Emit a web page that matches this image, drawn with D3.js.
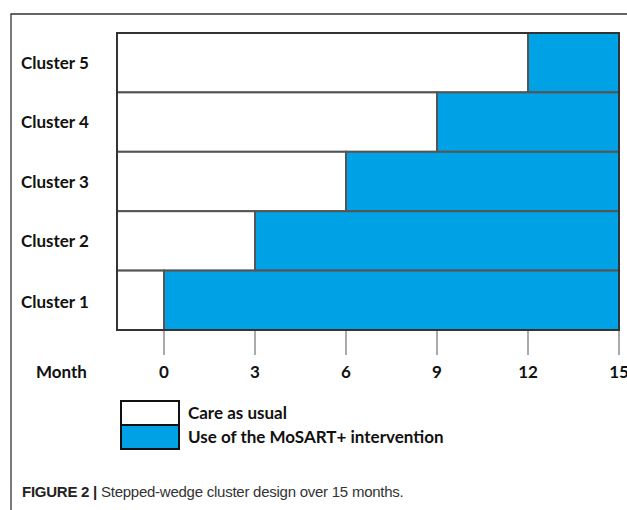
<!DOCTYPE html>
<html lang="en">
<head>
    <meta charset="UTF-8">
    <title>Stepped-wedge cluster design</title>
    <script src="https://d3js.org/d3.v7.min.js"></script>
    <style>
        body { margin: 0; background: #fff; }
        .lbl { font-family: Lato, "Open Sans", sans-serif; font-weight: bold; font-size: 17px; fill: #111; }
        .caption { font-family: "Liberation Sans", Arial, sans-serif; font-size: 15px; letter-spacing: -0.25px; fill: #333; }
    </style>
</head>
<body>
    <svg id="chart" width="627" height="510"></svg>

    <script>
        // data
        const clusters = ["Cluster 5", "Cluster 4", "Cluster 3", "Cluster 2", "Cluster 1"];
        const switchMonth = [12, 9, 6, 3, 0];
        const startMonth = -1.55;
        const endMonth = 15;
        const monthTicks = [0, 3, 6, 9, 12, 15];
        const legendItems = ["Care as usual", "Use of the MoSART+ intervention"];
        const legendColors = ["#ffffff", "#00a2e6"];

        let svg = d3.select("#chart");

        // outer frame (top and left)
        svg.append("path")
            .attr("d", "M11,510 L11,14 L627,14")
            .attr("fill", "none")
            .attr("stroke", "#333")
            .attr("stroke-width", 1.3);

        let x = d3.scaleLinear().domain([startMonth, endMonth]).range([117, 619]);
        let y = d3.scaleBand().domain(clusters).range([33, 330]).padding(0);

        let rows = clusters.map((c, i) => ({ cluster: c, sw: switchMonth[i] }));

        // care as usual part
        svg.append("g").selectAll("rect")
            .data(rows)
            .enter().append("rect")
            .attr("x", x(startMonth))
            .attr("y", d => y(d.cluster))
            .attr("width", d => x(d.sw) - x(startMonth))
            .attr("height", y.bandwidth())
            .attr("fill", legendColors[0])
            .attr("stroke", "#555")
            .attr("stroke-width", 2);

        // intervention part
        svg.append("g").selectAll("rect")
            .data(rows)
            .enter().append("rect")
            .attr("x", d => x(d.sw))
            .attr("y", d => y(d.cluster))
            .attr("width", d => x(endMonth) - x(d.sw))
            .attr("height", y.bandwidth())
            .attr("fill", legendColors[1])
            .attr("stroke", "#555")
            .attr("stroke-width", 2);

        // outer border of the grid
        svg.append("rect")
            .attr("x", x(startMonth))
            .attr("y", y.range()[0])
            .attr("width", x(endMonth) - x(startMonth))
            .attr("height", y.range()[1] - y.range()[0])
            .attr("fill", "none")
            .attr("stroke", "#333")
            .attr("stroke-width", 2);

        // cluster labels
        svg.append("g").selectAll("text")
            .data(clusters)
            .enter().append("text")
            .attr("class", "lbl")
            .attr("x", 21)
            .attr("y", (d, i) => y(d) + y.bandwidth() / 2 + 6 + (i === clusters.length - 1 ? 2 : 0))
            .text(d => d);

        // month ticks
        svg.append("g").selectAll("line")
            .data(monthTicks)
            .enter().append("line")
            .attr("x1", d => x(d)).attr("x2", d => x(d))
            .attr("y1", 331).attr("y2", 355)
            .attr("stroke", "#aaa")
            .attr("stroke-width", 2);

        svg.append("g").selectAll("text")
            .data(monthTicks)
            .enter().append("text")
            .attr("class", "lbl")
            .attr("x", d => x(d))
            .attr("y", 378)
            .attr("text-anchor", "middle")
            .text(d => d);

        svg.append("text")
            .attr("class", "lbl")
            .attr("x", 36)
            .attr("y", 378)
            .text("Month");

        // legend
        const legend = svg.append("g").attr("transform", "translate(121, 401)");
        legendItems.forEach((item, i) => {
            legend.append("rect")
                .attr("x", 0)
                .attr("y", i * 24)
                .attr("width", 58)
                .attr("height", 24)
                .attr("fill", legendColors[i])
                .attr("stroke", "#111")
                .attr("stroke-width", 2);
            legend.append("text")
                .attr("class", "lbl")
                .attr("x", 67)
                .attr("y", i * 24 + 18)
                .text(item);
        });

        // caption
        const cap = svg.append("text")
            .attr("class", "caption")
            .attr("x", 22)
            .attr("y", 497);
        cap.append("tspan").attr("font-weight", "bold").attr("fill", "#222").text("FIGURE 2 | ");
        cap.append("tspan").text("Stepped-wedge cluster design over 15 months.");
    </script>
</body>
</html>
